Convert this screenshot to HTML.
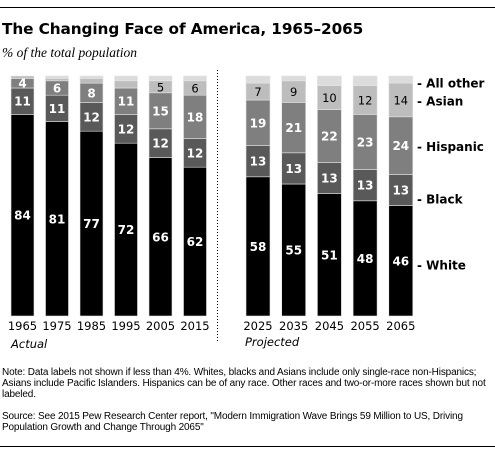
<!DOCTYPE html>
<html><head><meta charset="utf-8"><style>
body{margin:0;background:#fff;width:495px;height:455px;overflow:hidden;position:relative;font-family:"DejaVu Sans",Verdana,sans-serif}
.rule{position:absolute;left:0;width:495px;height:1px;background:#000}
#title{position:absolute;left:2px;top:20px;font-weight:bold;font-size:15.3px;color:#000;white-space:nowrap;letter-spacing:-0.1px}
#sub{position:absolute;left:2px;top:45px;font-family:"Liberation Serif",serif;font-style:italic;font-size:13.5px}
.note{position:absolute;left:2px;font-family:"Liberation Sans",Arial,sans-serif;font-size:10px;line-height:11px;color:#000;letter-spacing:-0.15px}
</style></head><body>
<div class="rule" style="top:7px"></div>
<div id="title">The Changing Face of America, 1965–2065</div>
<div id="sub">% of the total population</div>
<svg id="chart" width="495" height="360" style="position:absolute;left:0;top:0" font-family="DejaVu Sans, Verdana, sans-serif"></svg>
<div class="note" style="top:367px;width:490px">Note: Data labels not shown if less than 4%. Whites, blacks and Asians include only single-race non-Hispanics; Asians include Pacific Islanders. Hispanics can be of any race. Other races and two-or-more races shown but not labeled.</div>
<div class="note" style="top:411px;width:490px">Source: See 2015 Pew Research Center report, "Modern Immigration Wave Brings 59 Million to US, Driving Population Growth and Change Through 2065"</div>
<div class="rule" style="top:446px"></div>
<script>
const years=["1965","1975","1985","1995","2005","2015","2025","2035","2045","2055","2065"];
const white=[84,81,77,72,66,62,58,55,51,48,46];
const black=[11,11,12,12,12,12,13,13,13,13,13];
const hispanic=[4,6,8,11,15,18,19,21,22,23,24];
const asian=[1,1,2,3,5,6,7,9,10,12,14];
const other=[0,1,1,2,2,2,3,2,4,4,3];
const seriesNames=["White","Black","Hispanic","Asian","All other"];
const NS="http://www.w3.org/2000/svg";
const svg=document.getElementById('chart');
const baseY=316, scale=2.4;
function y(v){return baseY-v*scale;}
function xPos(i){return i<6?11+i*34.5:246+(i-6)*35.7;}
const bw=[23,23,23,23,23,23,24,24,24,24,24];
const colors=["#000000","#595959","#7f7f7f","#bdbdbd","#dcdcdc"];
const txtCol=["#fff","#fff","#fff","#000","#000"];
function el(t,a){const e=document.createElementNS(NS,t);for(const k in a)e.setAttribute(k,a[k]);svg.appendChild(e);return e;}
const sep=el('line',{x1:217.5,x2:217.5,y1:70,y2:342,stroke:'#000','stroke-width':1,'stroke-dasharray':'1,2'});


years.forEach((yr,i)=>{
  const vals=[white[i],black[i],hispanic[i],asian[i],other[i]];
  let cum=0;const x=xPos(i),w=bw[i];
  vals.forEach((v,s)=>{
    const y0=y(cum),y1=y(cum+v);cum+=v;
    const r=el('rect',{x:x,y:y1,width:w,height:y0-y1,fill:colors[s],stroke:'#e4e4e4','stroke-width':0.6});
    
    
    if(v>=4 && s<4){
      const t=el('text',{x:x+w/2,y:(y0+y1)/2+4.5,'text-anchor':'middle','font-size':(s==3?11.5:12),'font-weight':(s==3?'normal':'bold'),fill:txtCol[s]});
      t.textContent=v;
      
      
    }
  });
  const t=el('text',{x:x+w/2,y:330,'text-anchor':'middle','font-size':11.5,fill:'#000'});
  t.textContent=yr;
  
  
});
const a=el('text',{x:11,y:348,'font-size':11.5,'font-style':'italic',fill:'#000'});a.textContent='Actual';


const p=el('text',{x:245,y:346,'font-size':11.5,'font-style':'italic',fill:'#000'});p.textContent='Projected';


const li=years.length-1;
const lv=[white[li],black[li],hispanic[li],asian[li],other[li]];
const adj=[4,9,1,1,0];
let c=0;
lv.forEach((v,s)=>{
  let mid=(y(c)+y(c+v))/2;c+=v;
  if(s==4) mid=y(c)+7;
  const t=el('text',{x:417,y:mid+4.5+adj[s],'font-size':12,'font-weight':'bold',fill:'#000'});
  t.textContent='- '+seriesNames[s];
  
  
});
</script>
</body></html>
